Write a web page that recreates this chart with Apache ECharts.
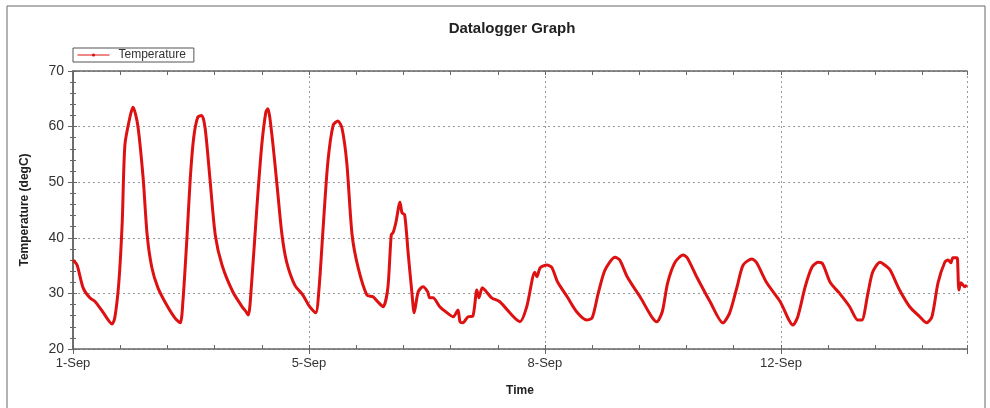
<!DOCTYPE html>
<html>
<head>
<meta charset="utf-8">
<title>Datalogger Graph</title>
<script src="https://cdn.jsdelivr.net/npm/echarts@6/dist/echarts.min.js"></script>
<style>
  html, body { margin: 0; padding: 0; background: #fff; }
  #chart { width: 990px; height: 408px; }
</style>
</head>
<body>
<div id="chart"></div>
<script>
// time in days from the start of the log (1-Sep 00:00)
const timeDays = [
  0.00, 0.06, 0.15, 0.25, 0.33, 0.44, 0.58, 0.62, 0.68, 0.73, 0.77, 0.85, 0.89, 0.96,
  1.04, 1.10, 1.17, 1.26, 1.39, 1.51, 1.59, 1.63, 1.69, 1.74, 1.79, 1.85, 1.91, 1.96,
  2.03, 2.11, 2.21, 2.37, 2.52, 2.55, 2.60, 2.65, 2.73, 2.80, 2.86, 2.89, 2.95,
  3.03, 3.10, 3.17, 3.29, 3.41, 3.51, 3.60, 3.65, 3.71, 3.78, 3.86, 3.93, 3.99,
  4.06, 4.14, 4.23, 4.36, 4.45, 4.52, 4.60, 4.67, 4.72, 4.75, 4.79, 4.85, 4.88, 4.92, 4.97,
  5.03, 5.06, 5.12, 5.19, 5.26, 5.29, 5.34, 5.44, 5.55, 5.64, 5.71, 5.74, 5.78, 5.86, 5.93, 5.99,
  6.02, 6.07, 6.11, 6.21, 6.33, 6.63, 6.73, 6.85, 6.88, 6.93,
  7.03, 7.10, 7.19, 7.33, 7.47, 7.62, 7.70, 7.79, 7.89,
  8.04, 8.11, 8.22, 8.41, 8.66, 8.74, 8.82, 8.93,
  9.05, 9.11, 9.25, 9.45, 9.64, 9.74, 9.85, 9.94,
  10.07, 10.14, 10.29, 10.49, 10.68, 10.75, 10.86, 10.96,
  11.05, 11.12, 11.23, 11.37, 11.52, 11.64, 11.70, 11.79, 11.86, 11.97,
  12.04, 12.12, 12.26, 12.41, 12.56, 12.66, 12.74, 12.83, 12.93, 12.98,
  13.02, 13.05, 13.11, 13.12, 13.14, 13.17, 13.23, 13.26
]
const tempC = [
  36.0, 35.1, 31.0, 29.2, 28.5, 26.7, 24.5, 25.6, 32.0, 42.8, 56.7, 62.0, 63.5, 60.3,
  50.8, 40.5, 34.6, 31.0, 27.9, 25.6, 24.7, 28.5, 40.0, 50.8, 58.0, 61.7, 62.0, 59.7,
  50.8, 40.5, 35.1, 30.3, 27.4, 27.0, 26.1, 32.0, 45.9, 56.7, 62.6, 63.2, 58.5,
  49.0, 40.5, 35.6, 31.5, 29.7, 27.6, 26.5, 31.0, 41.8, 53.6, 60.3, 61.0, 59.7,
  53.6, 40.5, 34.6, 29.7, 29.4, 28.5, 27.6, 31.0, 40.5, 41.0, 42.8, 46.4, 44.5, 44.1, 37.4,
  29.7, 26.5, 30.3, 31.2, 30.3, 29.2, 29.2, 27.6, 26.5, 25.8, 27.0, 24.9, 24.7, 25.8, 25.9, 30.6,
  29.2, 31.0, 30.6, 29.2, 28.5, 24.9, 27.6, 33.8, 33.0, 34.6,
  35.1, 34.7, 32.0, 29.4, 26.7, 25.2, 25.6, 30.0, 34.2,
  36.5, 36.0, 33.0, 29.4, 24.9, 26.7, 31.9, 35.6,
  36.9, 36.4, 33.0, 28.5, 24.7, 26.5, 31.2, 35.1,
  36.2, 35.5, 31.9, 28.5, 24.3, 25.8, 31.2, 34.7,
  35.6, 35.3, 32.0, 30.0, 27.6, 25.2, 25.2, 30.0, 33.8, 35.6,
  35.1, 34.2, 30.6, 27.6, 25.8, 24.7, 25.8, 31.9, 35.6, 36.0,
  35.5, 36.4, 36.4, 36.0, 30.6, 31.9, 31.2, 31.5
]
const xTickLabels = ['1-Sep', '5-Sep', '8-Sep', '12-Sep']
const xMax = 13.26
const xStep = 3.5

const axisColor = '#666'
const gridLine = { show: true, lineStyle: { color: '#999', type: [2, 3], width: 1 } }

const chart = echarts.init(document.getElementById('chart'))
chart.setOption({
  animation: false,
  textStyle: { fontFamily: 'Liberation Sans, Arial, sans-serif' },
  title: {
    text: 'Datalogger Graph',
    left: 507,
    top: 16,
    textAlign: 'center',
    textStyle: { fontSize: 15, fontWeight: 'bold', color: '#222' }
  },
  legend: {
    left: 73,
    top: 48,
    padding: [1, 8, 1, 4],
    itemWidth: 32,
    itemHeight: 4,
    itemGap: 0,
    borderColor: '#555',
    borderWidth: 1,
    lineStyle: { width: 1 },
    textStyle: { fontSize: 12, color: '#333', padding: [0, 0, 0, 4] },
    data: ['Temperature']
  },
  graphic: [{
    type: 'rect',
    shape: { x: 7, y: 6, width: 978, height: 420 },
    style: { fill: 'none', stroke: '#666', lineWidth: 1 },
    silent: true
  }],
  grid: { left: 73, top: 71, right: 23, bottom: 59 },
  xAxis: [
    {
      type: 'value',
      min: 0,
      max: xMax,
      interval: xStep,
      name: 'Time',
      nameLocation: 'middle',
      nameGap: 36,
      nameTextStyle: { fontSize: 12, fontWeight: 'bold', color: '#222' },
      axisLine: { lineStyle: { color: axisColor, width: 1.5 } },
      axisTick: { show: true, length: 5, lineStyle: { color: axisColor } },
      axisLabel: {
        fontSize: 13, color: '#333', margin: 8,
        formatter: (v) => {
          const i = Math.round(v / xStep)
          return Math.abs(v - i * xStep) < 1e-6 ? (xTickLabels[i] || '') : ''
        }
      },
      splitLine: gridLine
    },
    {
      // minor ticks on the bottom edge
      type: 'value', position: 'bottom', min: 0, max: xMax, interval: 0.7,
      axisLine: { show: false },
      axisTick: { show: true, inside: true, length: 4, lineStyle: { color: axisColor } },
      axisLabel: { show: false },
      splitLine: { show: false }
    },
    {
      // top frame with ticks
      type: 'value', position: 'top', min: 0, max: xMax, interval: 0.7,
      axisLine: { show: true, lineStyle: { color: axisColor, width: 1.5 } },
      axisTick: { show: true, inside: true, length: 4, lineStyle: { color: axisColor } },
      axisLabel: { show: false },
      splitLine: { show: false }
    }
  ],
  yAxis: [
    {
      type: 'value',
      min: 20,
      max: 70,
      interval: 10,
      name: 'Temperature (degC)',
      nameLocation: 'middle',
      nameGap: 42,
      nameTextStyle: { fontSize: 12, fontWeight: 'bold', color: '#222' },
      axisLine: { show: true, lineStyle: { color: axisColor, width: 1.5 } },
      axisTick: { show: true, length: 5, lineStyle: { color: axisColor } },
      minorTick: { show: true, splitNumber: 5, length: 3, lineStyle: { color: axisColor } },
      axisLabel: { fontSize: 14, color: '#333', margin: 9 },
      splitLine: gridLine
    },
    {
      type: 'value', position: 'left', min: 20, max: 70, interval: 10,
      axisLine: { show: false },
      axisTick: { show: true, inside: true, length: 4, lineStyle: { color: axisColor } },
      minorTick: { show: true, splitNumber: 5, length: 3, lineStyle: { color: axisColor } },
      axisLabel: { show: false },
      splitLine: { show: false }
    },
    {
      type: 'value', position: 'right', min: 20, max: 70, interval: 10,
      axisLine: { show: true, lineStyle: { color: axisColor, width: 1.5 } },
      axisTick: { show: true, inside: true, length: 4, lineStyle: { color: axisColor } },
      minorTick: { show: true, splitNumber: 5, length: 3, lineStyle: { color: axisColor } },
      axisLabel: { show: false },
      splitLine: { show: false }
    }
  ],
  series: [
    {
      name: 'Temperature',
      type: 'line',
      xAxisIndex: 0,
      yAxisIndex: 0,
      data: timeDays.map((t, i) => [t, tempC[i]]),
      symbol: 'circle',
      symbolSize: 4,
      showSymbol: false,
      smooth: 0.25,
      lineStyle: { color: '#dd1111', width: 3 },
      itemStyle: { color: '#dd1111' }
    }
  ]
})
</script>
</body>
</html>
